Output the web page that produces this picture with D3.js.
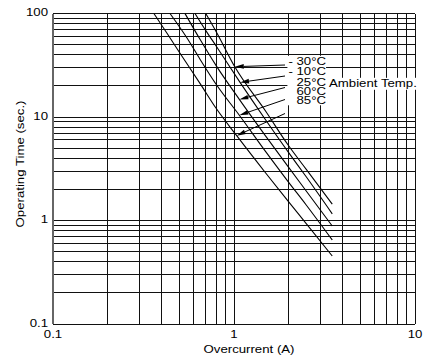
<!DOCTYPE html>
<html>
<head>
<meta charset="utf-8">
<script src="https://cdn.jsdelivr.net/npm/d3@7"></script>
<style>
html,body{margin:0;padding:0;background:#fff;}
svg{display:block;font-family:"Liberation Sans",Arial,Helvetica,sans-serif;}
</style>
</head>
<body>
<svg id="chart" width="430" height="362"></svg>
<script>
// ---- data ----
const seriesNames = ["- 30°C", "- 10°C", "25°C", "60°C", "85°C"];
const curveM30 = [[0.698,100],[0.8,66],[1.01,30.6],[1.5,11.3],[2.0,5.3],[2.52,3.08],[3.49,1.44]];
const curveM10 = [[0.609,100],[0.7,68],[0.8,48],[1.08,21.6],[1.5,9.3],[2.0,4.55],[2.5,2.66],[3.49,1.16]];
const curve25  = [[0.536,100],[0.65,56],[0.8,31],[1.07,14.8],[1.5,6.5],[2.0,3.28],[2.5,1.94],[3.49,0.885]];
const curve60  = [[0.443,100],[0.55,58],[0.65,36],[0.8,20.5],[1.07,10.4],[1.5,4.6],[2.0,2.35],[2.5,1.42],[3.49,0.648]];
const curve85  = [[0.361,100],[0.43,63],[0.5,42],[0.65,21],[0.8,12],[1.035,6.6],[1.5,2.86],[2.0,1.52],[2.5,0.94],[3.49,0.454]];
const curves = [curveM30, curveM10, curve25, curve60, curve85];
// arrow tips (points on each curve)
const arrowTipX = [1.01, 1.08, 1.07, 1.07, 1.035];
const arrowTipY = [30.6, 21.6, 14.8, 10.4, 6.6];
const xTickLabels = ["0.1", "1", "10"];
const yTickLabels = ["0.1", "1", "10", "100"];
const xTitle = "Overcurrent (A)";
const yTitle = "Operating Time (sec.)";
const legendTitle = "Ambient Temp.";

// ---- layout ----
const SX = 1.15; // horizontal glyph stretch
const svg = d3.select("#chart");
const x = d3.scaleLog().domain([0.1, 10]).range([53, 415]);
const y = d3.scaleLog().domain([0.1, 100]).range([324, 13.5]);

function txt(g, px, py, s, anchor, size, rot) {
  return g.append("text")
    .attr("transform", `translate(${px},${py})${rot ? " rotate(" + rot + ")" : ""} scale(${SX},1)`)
    .attr("text-anchor", anchor)
    .attr("font-size", size)
    .attr("fill", "#000")
    .text(s);
}

// grid values
const gridX = [], gridY = [];
[0.1, 1].forEach(d => { for (let k = 1; k <= 9; k++) gridX.push(+(d * k).toPrecision(3)); });
gridX.push(10);
[0.1, 1, 10].forEach(d => { for (let k = 1; k <= 9; k++) gridY.push(+(d * k).toPrecision(3)); });
gridY.push(100);

const grid = svg.append("g").attr("shape-rendering", "crispEdges");
grid.selectAll("line.v").data(gridX).join("line")
  .attr("x1", d => x(d)).attr("x2", d => x(d))
  .attr("y1", y(100)).attr("y2", y(0.1))
  .attr("stroke", "#111").attr("stroke-width", 1);
grid.selectAll("line.h").data(gridY).join("line")
  .attr("y1", d => y(d)).attr("y2", d => y(d))
  .attr("x1", x(0.1)).attr("x2", x(10))
  .attr("stroke", "#111").attr("stroke-width", 1);
// left axis line slightly heavier
grid.append("line").attr("x1", x(0.1)).attr("x2", x(0.1)).attr("y1", y(100)).attr("y2", y(0.1))
  .attr("stroke", "#666").attr("stroke-width", 2);

// curves
const line = d3.line().x(d => x(d[0])).y(d => y(d[1])).curve(d3.curveMonotoneX);
svg.append("g").selectAll("path").data(curves).join("path")
  .attr("d", line).attr("fill", "none").attr("stroke", "#000").attr("stroke-width", 1.1);

// labels block
const labelBaselines = [65, 75, 86, 94.5, 103.5];
const labelRight = 326;
const lg = svg.append("g");
const lt = lg.append("g");
seriesNames.forEach((s, i) => txt(lt, labelRight, labelBaselines[i], s, "end", 11.5));
const bb = lt.node().getBBox();
lg.insert("rect", ":first-child").attr("x", bb.x - 1).attr("y", bb.y + 1).attr("width", bb.width + 1).attr("height", bb.height - 2).attr("fill", "#fff");
const at = lg.append("g");
txt(at, labelRight + 3, 87, legendTitle, "start", 11.5);
const bb2 = at.node().getBBox();
lg.insert("rect", ":first-child").attr("x", bb2.x - 3).attr("y", bb2.y + 1).attr("width", bb2.width + 3).attr("height", bb2.height - 1).attr("fill", "#fff");

// arrows
const arrowStartY = [65, 76, 87.5, 99.5, 113.5];
const arrowStartX = 285;
const ag = svg.append("g");
arrowStartY.forEach((sy, i) => {
  const tx = x(arrowTipX[i]), ty = y(arrowTipY[i]);
  const dx = tx - arrowStartX, dy = ty - sy;
  const len = Math.hypot(dx, dy), ux = dx / len, uy = dy / len;
  const hl = 9, hw = 2.3;
  const bx = tx - ux * hl, by = ty - uy * hl;
  ag.append("line").attr("x1", arrowStartX).attr("y1", sy).attr("x2", bx).attr("y2", by)
    .attr("stroke", "#000").attr("stroke-width", 1);
  ag.append("path")
    .attr("d", `M${tx},${ty}L${bx - uy * hw},${by + ux * hw}L${bx + uy * hw},${by - ux * hw}Z`)
    .attr("fill", "#000");
});

// tick labels
const tg = svg.append("g");
yTickLabels.forEach(s => txt(tg, 48, y(+s) + 2.8, s, "end", 11.5));
xTickLabels.forEach(s => txt(tg, x(+s), 337.5, s, "middle", 11.5));

// axis titles
txt(svg, 249, 353, xTitle, "middle", 11.5);
txt(svg, 23.5, 164, yTitle, "middle", 11.5, -90);
</script>
</body>
</html>
